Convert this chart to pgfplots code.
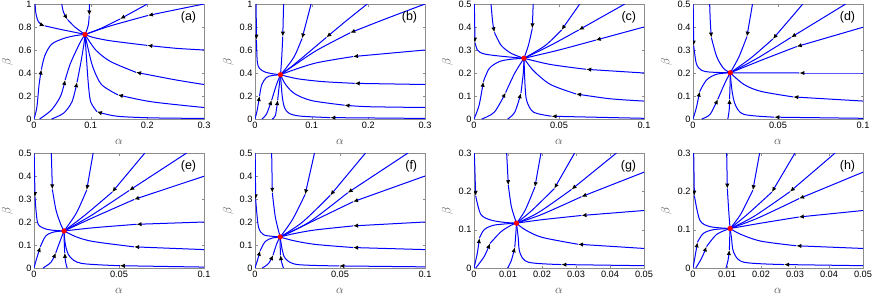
\documentclass[border=0pt]{standalone}
\usepackage{fontspec}
\setmainfont{Liberation Sans}
\usepackage{pgfplots}
\pgfplotsset{compat=1.18}
\usetikzlibrary{arrows.meta}
\pgfplotsset{
 panel/.style={scale only axis, width=170pt, height=115pt, anchor=south west,
  tick align=inside, major tick length=2.5pt, axis line style={black!45}, tick style={black!45},
  tick label style={font=\fontsize{9.2}{10}\selectfont, /pgf/number format/assume math mode=true},
  yticklabel style={xshift=1pt},
  scaled ticks=false,
  xticklabel style={/pgf/number format/fixed, /pgf/number format/precision=2},
  yticklabel style={/pgf/number format/fixed, /pgf/number format/precision=2},
  xlabel={$\alpha$}, ylabel={$\beta$}, label style={font=\fontsize{12}{13}\selectfont, text=black!70},
  xlabel shift=3pt, ylabel shift=-1pt},
 traj/.style={blue, line width=1pt, smooth, mark=none},
 arr/.style={-{Latex[length=5pt,width=4.4pt,color=black]}},
}
\newcommand{\tr}[2]{\addplot[traj,arr] coordinates {#1};\addplot[traj] coordinates {#2};}
\newcommand{\fp}[1]{\addplot[only marks, mark=*, mark size=2.4pt, color=red] coordinates {#1};}
\newcommand{\plabel}[1]{\node[anchor=north east, inner sep=0pt, font=\fontsize{12.5}{13}\selectfont] at (rel axis cs:0.955,0.935) {(#1)};}
\begin{document}
\begin{tikzpicture}
% (a)
\begin{axis}[panel, at={(34pt,179pt)}, xmin=0,xmax=0.3,ymin=0,ymax=1, xtick={0,0.1,0.2,0.3}, ytick={0,0.2,0.4,0.6,0.8,1}]
\tr{(0.002,1.0)(0.003,0.93)(0.006,0.865)(0.011,0.828)(0.019,0.81)}{(0.019,0.81)(0.046,0.78)(0.076,0.75)(0.09,0.735)}
\tr{(0.049,1.0)(0.052,0.93)(0.059,0.866)}{(0.059,0.866)(0.072,0.8)(0.083,0.76)(0.09,0.735)}
\tr{(0.098,1.0)(0.0975,0.9)}{(0.0975,0.9)(0.096,0.82)(0.093,0.77)(0.09,0.735)}
\tr{(0.2,1.0)(0.152,0.87)}{(0.152,0.87)(0.119,0.79)(0.09,0.735)}
\tr{(0.3,1.0)(0.25,0.95)(0.201,0.9)}{(0.201,0.9)(0.135,0.81)(0.09,0.735)}
\tr{(0.3,0.6)(0.25,0.615)(0.2,0.64)}{(0.2,0.64)(0.135,0.68)(0.104,0.71)(0.09,0.735)}
\tr{(0.3,0.3)(0.25,0.34)(0.18,0.406)}{(0.18,0.406)(0.135,0.5)(0.109,0.6)(0.09,0.735)}
\tr{(0.3,0.1)(0.207,0.15)(0.148,0.21)}{(0.148,0.21)(0.119,0.3)(0.104,0.45)(0.096,0.6)(0.09,0.735)}
\tr{(0.3,0.005)(0.207,0.01)(0.145,0.025)(0.111,0.064)}{(0.111,0.064)(0.1,0.15)(0.096,0.3)(0.093,0.5)(0.09,0.735)}
\tr{(0,0)(0.005,0.1)(0.009,0.3)(0.013,0.43)}{(0.013,0.43)(0.019,0.55)(0.031,0.65)(0.052,0.7)(0.073,0.725)(0.09,0.735)}
\tr{(0.01,0)(0.031,0.08)(0.047,0.2)(0.055,0.34)}{(0.055,0.34)(0.064,0.48)(0.075,0.6)(0.083,0.68)(0.09,0.735)}
\tr{(0.031,0)(0.052,0.05)(0.067,0.15)(0.076,0.32)}{(0.076,0.32)(0.083,0.5)(0.088,0.65)(0.09,0.735)}
\fp{(0.09,0.735)}
\plabel{a}
\end{axis}
% (b)
\begin{axis}[panel, at={(255pt,179pt)}, xmin=0,xmax=0.3,ymin=0,ymax=1, xtick={0,0.1,0.2,0.3}, ytick={0,0.2,0.4,0.6,0.8,1}]
\tr{(0.002,1)(0.0025,0.69)}{(0.0025,0.69)(0.004,0.5)(0.008,0.44)(0.018,0.408)(0.033,0.392)(0.045,0.385)}
\tr{(0.0505,1)(0.049,0.716)}{(0.049,0.716)(0.047,0.52)(0.045,0.385)}
\tr{(0.099,1)(0.091,0.85)(0.083,0.70)}{(0.083,0.70)(0.07,0.55)(0.056,0.45)(0.045,0.385)}
\tr{(0.198,1)(0.16,0.85)(0.126,0.71)}{(0.126,0.71)(0.09,0.56)(0.063,0.45)(0.045,0.385)}
\tr{(0.3,1)(0.23,0.87)(0.168,0.75)}{(0.168,0.75)(0.11,0.6)(0.07,0.47)(0.045,0.385)}
\tr{(0.3,0.6)(0.173,0.543)}{(0.173,0.543)(0.11,0.49)(0.07,0.43)(0.045,0.385)}
\tr{(0.3,0.3)(0.176,0.31)}{(0.176,0.31)(0.12,0.325)(0.075,0.35)(0.045,0.385)}
\tr{(0.3,0.1)(0.2,0.107)(0.158,0.12)}{(0.158,0.12)(0.1,0.16)(0.07,0.22)(0.054,0.3)(0.045,0.385)}
\tr{(0.3,0.005)(0.133,0.012)}{(0.133,0.012)(0.08,0.025)(0.06,0.05)(0.052,0.1)(0.048,0.2)(0.045,0.385)}
\tr{(0,0)(0.004,0.08)(0.008,0.2)}{(0.008,0.2)(0.012,0.3)(0.02,0.36)(0.03,0.378)(0.045,0.385)}
\tr{(0.012,0)(0.02,0.04)(0.0295,0.165)}{(0.0295,0.165)(0.038,0.3)(0.045,0.385)}
\tr{(0.03,0)(0.036,0.03)(0.04,0.165)}{(0.04,0.165)(0.043,0.3)(0.045,0.385)}
\fp{(0.045,0.385)}
\plabel{b}
\end{axis}
% (c)
\begin{axis}[panel, at={(474pt,179pt)}, xmin=0,xmax=0.1,ymin=0,ymax=0.5, xtick={0,0.05,0.1}, ytick={0,0.1,0.2,0.3,0.4,0.5}]
\tr{(0.0002,0.5)(0.0006,0.332)}{(0.0006,0.332)(0.002,0.3)(0.005,0.285)(0.01,0.278)(0.02,0.27)(0.0294,0.264)}
\tr{(0.01,0.5)(0.011,0.42)(0.012,0.377)}{(0.012,0.377)(0.016,0.32)(0.022,0.285)(0.0294,0.264)}
\tr{(0.0348,0.5)(0.0343,0.394)}{(0.0343,0.394)(0.032,0.32)(0.0294,0.264)}
\tr{(0.0622,0.5)(0.0515,0.387)}{(0.0515,0.387)(0.042,0.32)(0.0294,0.264)}
\tr{(0.0887,0.5)(0.0616,0.387)}{(0.0616,0.387)(0.045,0.32)(0.0294,0.264)}
\tr{(0.1,0.4)(0.0716,0.343)}{(0.0716,0.343)(0.05,0.3)(0.0294,0.264)}
\tr{(0.1,0.2)(0.066,0.216)}{(0.066,0.216)(0.045,0.237)(0.0294,0.264)}
\tr{(0.1,0.078)(0.08,0.088)(0.06,0.109)}{(0.06,0.109)(0.045,0.15)(0.035,0.21)(0.0294,0.264)}
\tr{(0.1,0.003)(0.0456,0.012)}{(0.0456,0.012)(0.035,0.03)(0.031,0.08)(0.03,0.15)(0.0294,0.264)}
\tr{(0,0)(0.003,0.06)(0.0055,0.162)}{(0.0055,0.162)(0.009,0.22)(0.015,0.25)(0.022,0.26)(0.0294,0.264)}
\tr{(0.0045,0)(0.012,0.03)(0.0186,0.115)}{(0.0186,0.115)(0.024,0.2)(0.0294,0.264)}
\tr{(0.0198,0)(0.024,0.03)(0.0276,0.112)}{(0.0276,0.112)(0.029,0.2)(0.0294,0.264)}
\fp{(0.0294,0.264)}
\plabel{c}
\end{axis}
% (d)
\begin{axis}[panel, at={(693pt,179pt)}, xmin=0,xmax=0.1,ymin=0,ymax=0.5, xtick={0,0.05,0.1}, ytick={0,0.1,0.2,0.3,0.4,0.5}]
\tr{(0.0001,0.5)(0.0004,0.319)}{(0.0004,0.319)(0.002,0.24)(0.005,0.212)(0.01,0.204)(0.0219,0.201)}
\tr{(0.0098,0.5)(0.0102,0.42)(0.0108,0.354)}{(0.0108,0.354)(0.014,0.27)(0.018,0.22)(0.0219,0.201)}
\tr{(0.035,0.5)(0.0317,0.358)}{(0.0317,0.358)(0.027,0.27)(0.0219,0.201)}
\tr{(0.0646,0.5)(0.047,0.348)}{(0.047,0.348)(0.034,0.265)(0.0219,0.201)}
\tr{(0.0898,0.5)(0.0577,0.355)}{(0.0577,0.355)(0.038,0.265)(0.0219,0.201)}
\tr{(0.1,0.399)(0.061,0.315)}{(0.061,0.315)(0.04,0.255)(0.0219,0.201)}
\tr{(0.1,0.2)(0.0626,0.2)}{(0.0626,0.2)(0.0219,0.201)}
\tr{(0.1,0.078)(0.059,0.096)}{(0.059,0.096)(0.04,0.12)(0.03,0.15)(0.0219,0.201)}
\tr{(0.1,0.003)(0.0478,0.008)}{(0.0478,0.008)(0.03,0.02)(0.025,0.06)(0.023,0.12)(0.0219,0.201)}
\tr{(0,0)(0.002,0.05)(0.0039,0.119)}{(0.0039,0.119)(0.008,0.17)(0.014,0.195)(0.0219,0.201)}
\tr{(0.0051,0)(0.01,0.02)(0.0146,0.086)}{(0.0146,0.086)(0.019,0.16)(0.0219,0.201)}
\tr{(0.0205,0)(0.0213,0.04)(0.0215,0.087)}{(0.0215,0.087)(0.0218,0.15)(0.0219,0.201)}
\fp{(0.0219,0.201)}
\plabel{d}
\end{axis}
% (e)
\begin{axis}[panel, at={(34pt,30pt)}, xmin=0,xmax=0.1,ymin=0,ymax=0.5, xtick={0,0.05,0.1}, ytick={0,0.1,0.2,0.3,0.4,0.5}]
\tr{(0.0001,0.5)(0.0006,0.308)}{(0.0006,0.308)(0.002,0.2)(0.005,0.175)(0.01,0.165)(0.0177,0.161)}
\tr{(0.0102,0.5)(0.0108,0.342)}{(0.0108,0.342)(0.013,0.25)(0.016,0.185)(0.0177,0.161)}
\tr{(0.0348,0.5)(0.031,0.339)}{(0.031,0.339)(0.025,0.24)(0.0177,0.161)}
\tr{(0.0652,0.5)(0.046,0.33)}{(0.046,0.33)(0.03,0.23)(0.0177,0.161)}
\tr{(0.0898,0.5)(0.056,0.337)}{(0.056,0.337)(0.034,0.23)(0.0177,0.161)}
\tr{(0.1,0.399)(0.0589,0.298)}{(0.0589,0.298)(0.035,0.22)(0.0177,0.161)}
\tr{(0.1,0.2)(0.0603,0.19)}{(0.0603,0.19)(0.035,0.175)(0.0177,0.161)}
\tr{(0.1,0.08)(0.0589,0.092)}{(0.0589,0.092)(0.035,0.115)(0.025,0.135)(0.0177,0.161)}
\tr{(0.1,0.004)(0.0505,0.01)}{(0.0505,0.01)(0.028,0.02)(0.021,0.05)(0.0185,0.1)(0.0177,0.161)}
\tr{(0,0)(0.0015,0.04)(0.0037,0.092)}{(0.0037,0.092)(0.007,0.14)(0.012,0.157)(0.0177,0.161)}
\tr{(0.0053,0)(0.01,0.025)(0.0128,0.066)}{(0.0128,0.066)(0.016,0.13)(0.0177,0.161)}
\tr{(0.0195,0)(0.0185,0.03)(0.0181,0.066)}{(0.0181,0.066)(0.0178,0.11)(0.0177,0.161)}
\fp{(0.0177,0.161)}
\plabel{e}
\end{axis}
% (f)
\begin{axis}[panel, at={(255pt,30pt)}, xmin=0,xmax=0.1,ymin=0,ymax=0.5, xtick={0,0.05,0.1}, ytick={0,0.1,0.2,0.3,0.4,0.5}]
\tr{(0.0001,0.5)(0.0004,0.298)}{(0.0004,0.298)(0.002,0.18)(0.005,0.145)(0.01,0.138)(0.0148,0.135)}
\tr{(0.0098,0.5)(0.0102,0.327)}{(0.0102,0.327)(0.012,0.22)(0.0148,0.135)}
\tr{(0.035,0.5)(0.0295,0.32)}{(0.0295,0.32)(0.022,0.21)(0.0148,0.135)}
\tr{(0.065,0.5)(0.0443,0.316)}{(0.0443,0.316)(0.028,0.2)(0.0148,0.135)}
\tr{(0.09,0.5)(0.0545,0.327)}{(0.0545,0.327)(0.032,0.2)(0.0148,0.135)}
\tr{(0.1,0.4)(0.0577,0.288)}{(0.0577,0.288)(0.033,0.2)(0.0148,0.135)}
\tr{(0.1,0.2)(0.0577,0.183)}{(0.0577,0.183)(0.035,0.165)(0.022,0.148)(0.0148,0.135)}
\tr{(0.1,0.08)(0.0577,0.089)}{(0.0577,0.089)(0.035,0.103)(0.022,0.12)(0.0148,0.135)}
\tr{(0.1,0.005)(0.0496,0.009)}{(0.0496,0.009)(0.025,0.015)(0.018,0.04)(0.016,0.08)(0.0148,0.135)}
\tr{(0,0)(0.0015,0.035)(0.003,0.075)}{(0.003,0.075)(0.006,0.115)(0.01,0.13)(0.0148,0.135)}
\tr{(0.0043,0)(0.008,0.02)(0.0106,0.056)}{(0.0106,0.056)(0.013,0.11)(0.0148,0.135)}
\tr{(0.0167,0)(0.0155,0.03)(0.015,0.056)}{(0.015,0.056)(0.0148,0.1)(0.0148,0.135)}
\fp{(0.0148,0.135)}
\plabel{f}
\end{axis}
% (g)
\begin{axis}[panel, at={(474pt,30pt)}, xmin=0,xmax=0.05,ymin=0,ymax=0.3, xtick={0,0.01,0.02,0.03,0.04,0.05}, ytick={0,0.1,0.2,0.3}]
\tr{(0.0001,0.3)(0.0005,0.188)}{(0.0005,0.188)(0.002,0.14)(0.005,0.125)(0.009,0.119)(0.0125,0.117)}
\tr{(0.0096,0.3)(0.0101,0.216)}{(0.0101,0.216)(0.011,0.16)(0.0125,0.117)}
\tr{(0.0197,0.3)(0.0179,0.211)}{(0.0179,0.211)(0.015,0.15)(0.0125,0.117)}
\tr{(0.0296,0.3)(0.0236,0.207)}{(0.0236,0.207)(0.017,0.15)(0.0125,0.117)}
\tr{(0.0419,0.3)(0.0287,0.205)}{(0.0287,0.205)(0.019,0.145)(0.0125,0.117)}
\tr{(0.05,0.25)(0.0316,0.186)}{(0.0316,0.186)(0.02,0.14)(0.0125,0.117)}
\tr{(0.05,0.15)(0.0316,0.137)}{(0.0316,0.137)(0.02,0.126)(0.0125,0.117)}
\tr{(0.05,0.051)(0.0306,0.062)}{(0.0306,0.062)(0.02,0.08)(0.015,0.1)(0.0125,0.117)}
\tr{(0.05,0.006)(0.0257,0.009)}{(0.0257,0.009)(0.016,0.015)(0.0135,0.04)(0.013,0.08)(0.0125,0.117)}
\tr{(0,0)(0.001,0.04)(0.0016,0.078)}{(0.0016,0.078)(0.003,0.1)(0.006,0.112)(0.0125,0.117)}
\tr{(0.0005,0)(0.003,0.03)(0.0047,0.064)}{(0.0047,0.064)(0.008,0.095)(0.011,0.112)(0.0125,0.117)}
\tr{(0.0099,0)(0.011,0.02)(0.012,0.054)}{(0.012,0.054)(0.0123,0.09)(0.0125,0.117)}
\fp{(0.0125,0.117)}
\plabel{g}
\end{axis}
% (h)
\begin{axis}[panel, at={(693pt,30pt)}, xmin=0,xmax=0.05,ymin=0,ymax=0.3, xtick={0,0.01,0.02,0.03,0.04,0.05}, ytick={0,0.1,0.2,0.3}]
\tr{(0.0002,0.3)(0.0004,0.189)}{(0.0004,0.189)(0.002,0.125)(0.005,0.108)(0.0109,0.103)}
\tr{(0.0099,0.3)(0.0101,0.207)}{(0.0101,0.207)(0.0105,0.15)(0.0109,0.103)}
\tr{(0.0196,0.3)(0.0176,0.203)}{(0.0176,0.203)(0.014,0.14)(0.0109,0.103)}
\tr{(0.03,0.3)(0.0232,0.198)}{(0.0232,0.198)(0.016,0.14)(0.0109,0.103)}
\tr{(0.0418,0.3)(0.0285,0.199)}{(0.0285,0.199)(0.018,0.135)(0.0109,0.103)}
\tr{(0.05,0.25)(0.0312,0.181)}{(0.0312,0.181)(0.019,0.13)(0.0109,0.103)}
\tr{(0.05,0.15)(0.0311,0.133)}{(0.0311,0.133)(0.02,0.117)(0.0109,0.103)}
\tr{(0.05,0.051)(0.0304,0.058)}{(0.0304,0.058)(0.02,0.07)(0.014,0.088)(0.0109,0.103)}
\tr{(0.05,0.006)(0.0268,0.009)}{(0.0268,0.009)(0.015,0.015)(0.012,0.04)(0.0113,0.08)(0.0109,0.103)}
\tr{(0,0)(0.0007,0.035)(0.0013,0.067)}{(0.0013,0.067)(0.003,0.09)(0.006,0.1)(0.0109,0.103)}
\tr{(0.0008,0)(0.0025,0.025)(0.004,0.056)}{(0.004,0.056)(0.007,0.088)(0.0109,0.103)}
\tr{(0.0097,0)(0.0103,0.02)(0.0107,0.047)}{(0.0107,0.047)(0.0108,0.08)(0.0109,0.103)}
\fp{(0.0109,0.103)}
\plabel{h}
\end{axis}
\pgfresetboundingbox
\path[use as bounding box] (0,0) rectangle (872pt,298pt);
\end{tikzpicture}
\end{document}
